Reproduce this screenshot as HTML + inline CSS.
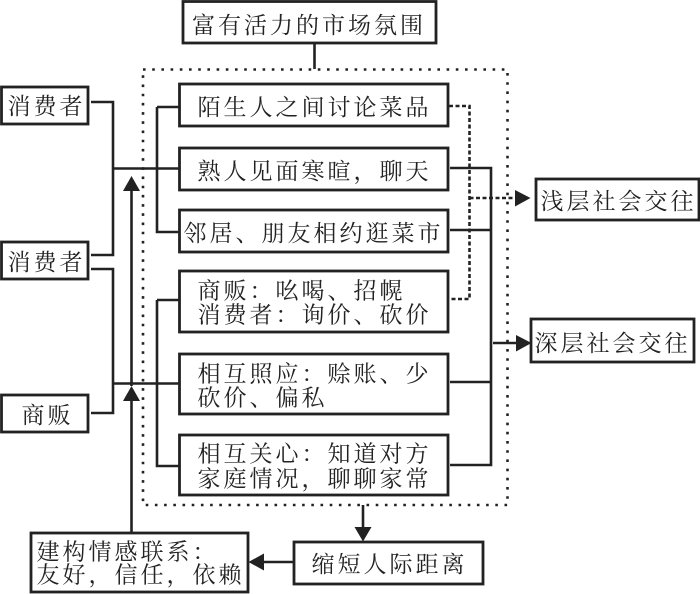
<!DOCTYPE html>
<html lang="zh">
<head>
<meta charset="utf-8">
<style>
html,body{margin:0;padding:0;background:#fff;width:700px;height:594px;overflow:hidden}
svg{display:block}
text{font-family:"Liberation Serif","Noto Serif CJK SC",serif;font-size:23px;letter-spacing:3px;fill:#222}
.b{fill:#fff;stroke:#222;stroke-width:2.8}
.l{fill:none;stroke:#222;stroke-width:2.6}
.d{fill:none;stroke:#222;stroke-width:2.6;stroke-dasharray:4 2.5}
.o{fill:none;stroke:#222;stroke-width:2.6;stroke-dasharray:2.6 6.6}
.a{fill:#222}
</style>
</head>
<body>
<svg width="700" height="594" viewBox="0 0 700 594" xmlns="http://www.w3.org/2000/svg">
<rect class="o" x="143" y="69.5" width="364.5" height="435.5"/>
<path class="l" d="M314.5 43V69"/>
<path class="l" d="M91 102H113V255H91M113 168.500H179M157 107H179M157 107V232H179"/>
<path class="l" d="M91 269H113V413H91M113 383.500H179M157 300H179M157 300V466H179"/>
<path class="l" d="M131.500 532V395M131.500 386V188"/>
<path class="a" d="M131.500 176L140 191H123Z"/>
<path class="a" d="M131.500 386L140 401H123Z"/>
<path class="d" d="M449 106H469.500V299H449M469.500 198H516"/>
<path class="a" d="M515 190L530.500 198L515 206.500Z"/>
<path class="l" d="M450 168H491V465H450M450 230H491M450 382H491M493 343H518"/>
<path class="a" d="M516 335L531.500 343L516 351.500Z"/>
<path class="l" d="M363 505V528"/>
<path class="a" d="M354.500 527H371.500L363 541.500Z"/>
<path class="l" d="M294 562H262"/>
<path class="a" d="M248.500 562L264 553.500V570.500Z"/>
<rect class="b" x="183" y="1.500" width="253" height="41.500"/>
<rect class="b" x="179.500" y="84" width="268.500" height="42"/>
<rect class="b" x="179.500" y="148" width="268.500" height="42"/>
<rect class="b" x="179.500" y="210" width="268.500" height="42"/>
<rect class="b" x="179.500" y="271" width="268.500" height="61"/>
<rect class="b" x="179.500" y="354" width="268.500" height="60"/>
<rect class="b" x="179.500" y="435" width="268.500" height="60"/>
<rect class="b" x="1.500" y="87" width="86.500" height="37"/>
<rect class="b" x="1.500" y="242" width="86.500" height="37"/>
<rect class="b" x="1.500" y="395" width="86.500" height="37"/>
<rect class="b" x="536" y="179" width="163" height="41"/>
<rect class="b" x="531" y="319" width="163" height="43"/>
<rect class="b" x="294" y="542" width="189" height="42"/>
<rect class="b" x="31" y="533" width="217" height="59"/>
<text x="192" y="33">富有活力的市场氛围</text>
<text x="197.500" y="115">陌生人之间讨论菜品</text>
<text x="197.500" y="179">熟人见面寒暄，聊天</text>
<text x="183.500" y="241">邻居、朋友相约逛菜市</text>
<text x="197.500" y="298.500">商贩：吆喝、招幌</text>
<text x="197.500" y="322.500">消费者：询价、砍价</text>
<text x="197.500" y="381.500">相互照应：赊账、少</text>
<text x="197.500" y="405.500">砍价、偏私</text>
<text x="197.500" y="461.500">相互关心：知道对方</text>
<text x="197.500" y="486.500">家庭情况，聊聊家常</text>
<text x="7.500" y="114">消费者</text>
<text x="7.500" y="270">消费者</text>
<text x="21.500" y="423">商贩</text>
<text x="540.500" y="209">浅层社会交往</text>
<text x="534.500" y="351">深层社会交往</text>
<text x="311.500" y="572">缩短人际距离</text>
<text x="36.500" y="559.500">建构情感联系：</text>
<text x="36.500" y="582.500">友好，信任，依赖</text>
</svg>
</body>
</html>
